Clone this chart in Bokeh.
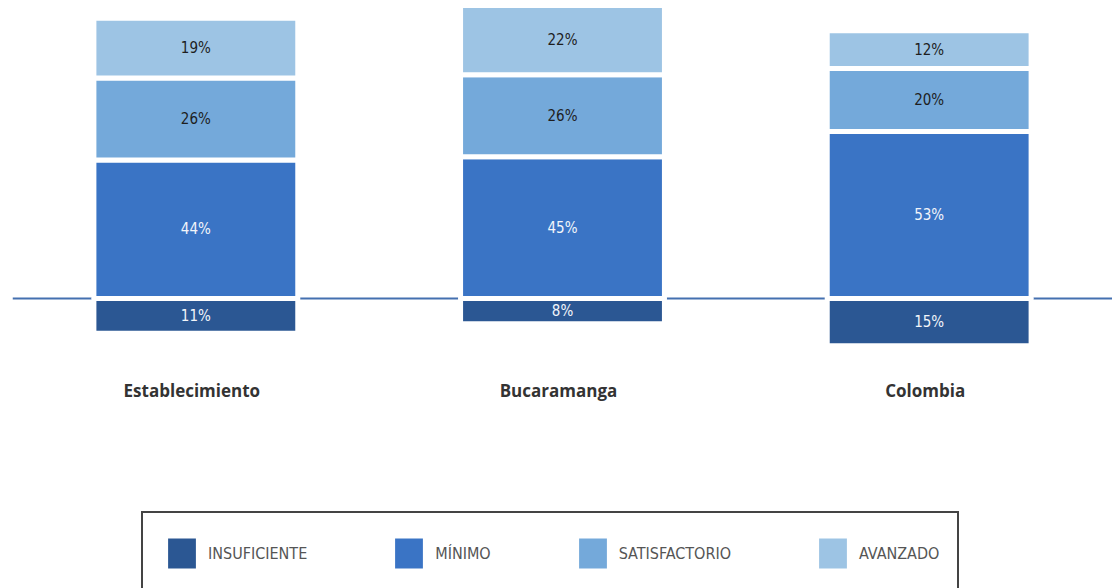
from bokeh.plotting import figure
from bokeh.models import ColumnDataSource, FactorRange, Range1d, Legend, LegendItem, Span
from bokeh.core.properties import value
from bokeh.embed import file_html
from bokeh.resources import INLINE

categories = ["Establecimiento", "Bucaramanga", "Colombia"]
insuficiente = [11, 8, 15]
minimo = [44, 45, 53]
satisfactorio = [26, 26, 20]
avanzado = [19, 22, 12]
levels = ["INSUFICIENTE", "MÍNIMO", "SATISFACTORIO", "AVANZADO"]
colors = ["#2B5793", "#3A74C5", "#74A9DA", "#9DC4E4"]

PX = 3.15          # pixels per percentage point
BASE_PX = 298      # baseline position from top of frame
FRAME_H = 588
y_end = BASE_PX / PX
y_start = y_end - FRAME_H / PX
LABEL_Y = (BASE_PX - 390) / PX

pct = lambda vals: [f"{v}%" for v in vals]
src = ColumnDataSource(dict(
    cat=categories,
    ins=insuficiente,
    neg=[-v for v in insuficiente],
    mi=minimo, sa=satisfactorio, av=avanzado,
    y_ins=[-v / 2 for v in insuficiente],
    y_mi=[m / 2 for m in minimo],
    y_sa=[m + s / 2 for m, s in zip(minimo, satisfactorio)],
    y_av=[m + s + a / 2 for m, s, a in zip(minimo, satisfactorio, avanzado)],
    t_ins=pct(insuficiente), t_mi=pct(minimo), t_sa=pct(satisfactorio), t_av=pct(avanzado),
    lab_y=[LABEL_Y] * len(categories),
))

p = figure(x_range=FactorRange(*categories), y_range=Range1d(y_start, y_end),
           width=1112, height=588, output_backend="svg", toolbar_location=None,
           min_border_left=12, min_border_right=0, min_border_top=0, min_border_bottom=0)
p.xaxis.visible = False
p.yaxis.visible = False
p.xgrid.visible = False
p.ygrid.visible = False
p.outline_line_color = None
p.background_fill_color = "white"
p.border_fill_color = "white"

base = Span(location=0, dimension="width", line_color="#4470B0", line_width=2, level="underlay")
p.add_layout(base)

BW = 0.556
r_ins = p.vbar(x="cat", top=0, bottom="neg", width=BW, source=src,
               fill_color=colors[0], line_color="white", line_width=5)
r_stack = p.vbar_stack(["mi", "sa", "av"], x="cat", width=BW, source=src,
                       fill_color=colors[1:], line_color="white", line_width=5)

FONT_NAME = "DejaVu Sans Condensed"
FONT = value(FONT_NAME)
for ycol, tcol, col in [("y_ins", "t_ins", "#F2F5FA"), ("y_mi", "t_mi", "#F2F5FA"),
                        ("y_sa", "t_sa", "#1E1E1E"), ("y_av", "t_av", "#1E1E1E")]:
    p.text(x="cat", y=ycol, text=tcol, source=src, text_align="center",
           text_baseline="middle", text_font=FONT, text_font_size="15px", text_color=col)

p.text(x="cat", y="lab_y", text="cat", source=src, text_align="center",
       text_baseline="middle", text_font=value("Open Sans"), text_font_style="bold",
       text_font_size="17px", text_color="#333333", x_offset=-4)

renderers = [r_ins] + list(r_stack)
legend = Legend(items=[LegendItem(label=l, renderers=[r]) for l, r in zip(levels, renderers)],
                orientation="horizontal", location=(129, -7),
                glyph_width=41, glyph_height=44, label_standoff=6, spacing=81,
                padding=18, margin=0, border_line_color="#444444", border_line_width=2,
                border_line_alpha=1.0,
                label_text_font=FONT_NAME, label_text_font_size="16px", label_text_color="#555555",
                background_fill_color="white", background_fill_alpha=1.0)
p.add_layout(legend, "center")

open("out.html", "w").write(file_html(p, INLINE))
